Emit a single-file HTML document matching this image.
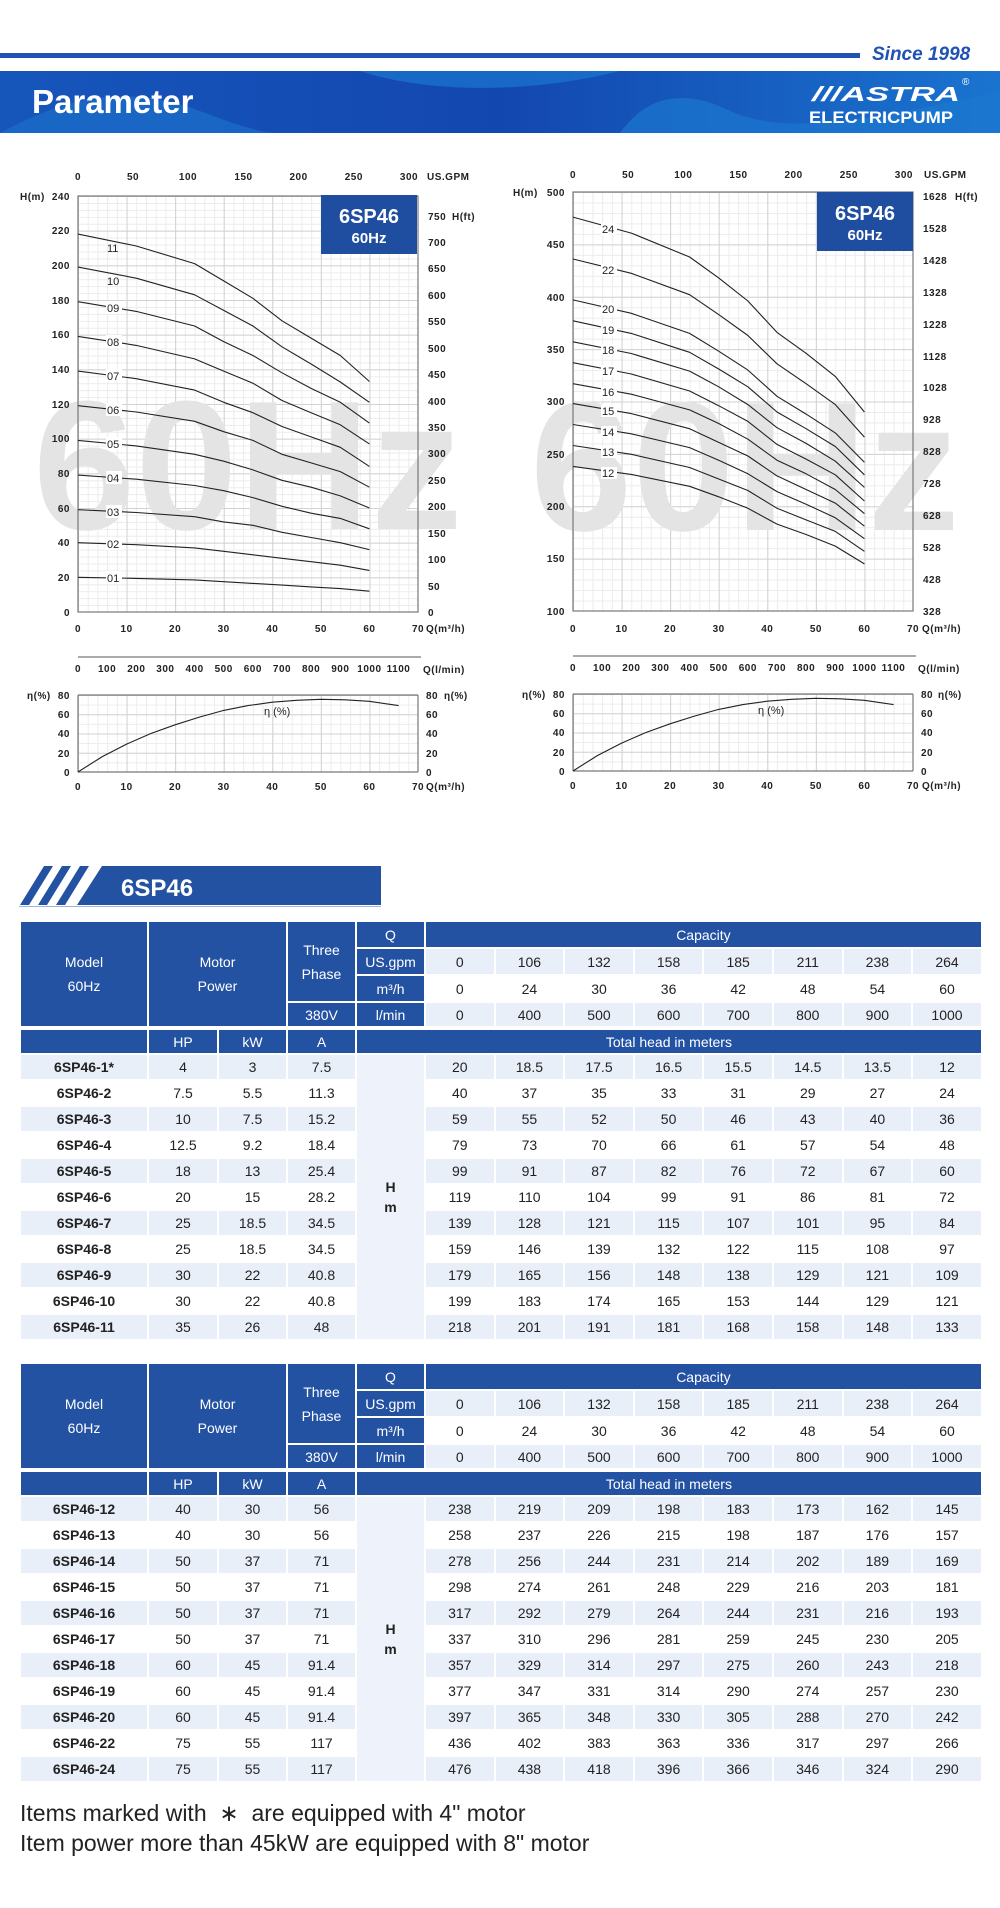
<!DOCTYPE html>
<html><head><meta charset="utf-8"><style>
body{margin:0;background:#fff;width:1000px;height:1908px;position:relative;overflow:hidden;font-family:"Liberation Sans",sans-serif}
.abs{position:absolute}
table.t{position:absolute;left:19px;width:962px;border-collapse:collapse;table-layout:fixed;border:2px solid #2452a2;font-family:"Liberation Sans Narrow","Liberation Sans",sans-serif;font-size:14px;color:#222;text-align:center}
table.t td{border:2px solid #fff;padding:0;line-height:1}
table.t td.b{background:#2452a2;color:#fff;font-size:14px}
table.t tr.l td{background:#e9eff9}
table.t td.hm{background:#eef3fb !important;font-weight:bold;line-height:20px}
table.t td.m{font-weight:bold}
.foot{position:absolute;left:20px;font-size:23px;color:#222}
</style></head><body>
<div class="abs" style="left:0;top:53px;width:860px;height:5px;background:#1f52b4"></div>
<div class="abs" style="left:872px;top:44px;font-size:19px;font-weight:bold;font-style:italic;color:#1f52b4">Since 1998</div>
<svg class="abs" style="left:0;top:71px" width="1000" height="62">
<defs><linearGradient id="hg" x1="0" x2="1"><stop offset="0" stop-color="#1656bb"/><stop offset=".5" stop-color="#1347b0"/><stop offset="1" stop-color="#1a74cf"/></linearGradient></defs>
<rect width="1000" height="62" fill="url(#hg)"/>
<path d="M0,62 C60,30 120,10 200,40 C240,55 260,62 280,62Z" fill="#1b6fcb" opacity=".7"/>
<path d="M360,0 C420,20 520,25 620,0Z" fill="#1d7fd4" opacity=".6"/>
<path d="M620,62 C650,20 690,20 730,40 C780,62 850,55 1000,20 L1000,62Z" fill="#1b77cf" opacity=".7"/>
<text x="32" y="42" font-size="33" font-weight="bold" fill="#fff">Parameter</text>
<text x="812" y="30" font-size="20" font-weight="bold" font-style="italic" fill="#fff" textLength="148" lengthAdjust="spacingAndGlyphs">///ASTRA</text>
<text x="962" y="14" font-size="10" fill="#fff">®</text>
<text x="809" y="52" font-size="17" font-weight="bold" fill="#fff" textLength="144" lengthAdjust="spacingAndGlyphs">ELECTRICPUMP</text>
</svg>

<svg class="abs" style="left:0;top:0" width="1000" height="800" font-family="Liberation Sans, sans-serif" font-size="10" fill="#222">
<defs>
<pattern id="lminv" patternUnits="userSpaceOnUse" x="78" y="0" width="9.714" height="800"><line x1="0.5" y1="0" x2="0.5" y2="800" stroke="#ececec" stroke-width="1"/></pattern>
<pattern id="lmajv" patternUnits="userSpaceOnUse" x="78" y="0" width="48.57" height="800"><line x1="0.5" y1="0" x2="0.5" y2="800" stroke="#d2d2d2" stroke-width="1"/></pattern>
<pattern id="rminv" patternUnits="userSpaceOnUse" x="573" y="0" width="9.714" height="800"><line x1="0.5" y1="0" x2="0.5" y2="800" stroke="#ececec" stroke-width="1"/></pattern>
<pattern id="rmajv" patternUnits="userSpaceOnUse" x="573" y="0" width="48.57" height="800"><line x1="0.5" y1="0" x2="0.5" y2="800" stroke="#d2d2d2" stroke-width="1"/></pattern>
<pattern id="lminh" patternUnits="userSpaceOnUse" x="0" y="612" width="1000" height="6.933"><line x1="0" y1="0.5" x2="1000" y2="0.5" stroke="#ececec"/></pattern>
<pattern id="lmajh" patternUnits="userSpaceOnUse" x="0" y="612" width="1000" height="34.667"><line x1="0" y1="0.5" x2="1000" y2="0.5" stroke="#d2d2d2"/></pattern>
<pattern id="rminh" patternUnits="userSpaceOnUse" x="0" y="611" width="1000" height="10.475"><line x1="0" y1="0.5" x2="1000" y2="0.5" stroke="#ececec"/></pattern>
<pattern id="rmajh" patternUnits="userSpaceOnUse" x="0" y="611" width="1000" height="52.375"><line x1="0" y1="0.5" x2="1000" y2="0.5" stroke="#d2d2d2"/></pattern>
<pattern id="eminh" patternUnits="userSpaceOnUse" x="0" y="772" width="1000" height="9.625"><line x1="0" y1="0.5" x2="1000" y2="0.5" stroke="#ececec"/></pattern>
<pattern id="emajh" patternUnits="userSpaceOnUse" x="0" y="772" width="1000" height="19.25"><line x1="0" y1="0.5" x2="1000" y2="0.5" stroke="#d2d2d2"/></pattern>
<pattern id="eminh2" patternUnits="userSpaceOnUse" x="0" y="771" width="1000" height="9.625"><line x1="0" y1="0.5" x2="1000" y2="0.5" stroke="#ececec"/></pattern>
<pattern id="emajh2" patternUnits="userSpaceOnUse" x="0" y="771" width="1000" height="19.25"><line x1="0" y1="0.5" x2="1000" y2="0.5" stroke="#d2d2d2"/></pattern>
</defs>
<rect x="78" y="196" width="340" height="416" fill="url(#lminh)"/>
<rect x="78" y="196" width="340" height="416" fill="url(#lminv)"/>
<rect x="78" y="196" width="340" height="416" fill="url(#lmajh)"/>
<rect x="78" y="196" width="340" height="416" fill="url(#lmajv)"/>
<rect x="573" y="192" width="340" height="419" fill="url(#rminh)"/>
<rect x="573" y="192" width="340" height="419" fill="url(#rminv)"/>
<rect x="573" y="192" width="340" height="419" fill="url(#rmajh)"/>
<rect x="573" y="192" width="340" height="419" fill="url(#rmajv)"/>
<rect x="78" y="695" width="340" height="77" fill="url(#eminh)"/>
<rect x="78" y="695" width="340" height="77" fill="url(#lminv)"/>
<rect x="78" y="695" width="340" height="77" fill="url(#emajh)"/>
<rect x="78" y="695" width="340" height="77" fill="url(#lmajv)"/>
<rect x="573" y="694" width="340" height="77" fill="url(#eminh2)"/>
<rect x="573" y="694" width="340" height="77" fill="url(#rminv)"/>
<rect x="573" y="694" width="340" height="77" fill="url(#emajh2)"/>
<rect x="573" y="694" width="340" height="77" fill="url(#rmajv)"/>
<text x="33" y="529" font-size="184" font-weight="bold" fill="#e4e4e4">60Hz</text>
<text x="530" y="530" font-size="184" font-weight="bold" fill="#e4e4e4">60Hz</text>
<g fill="none" stroke="#777" stroke-width="1.2">
<rect x="78" y="196" width="340" height="416"/>
<rect x="573" y="192" width="340" height="419"/>
<line x1="78" y1="695" x2="418" y2="695"/><line x1="78" y1="772" x2="418" y2="772"/><line x1="78" y1="695" x2="78" y2="772"/><line x1="418" y1="695" x2="418" y2="772"/>
<line x1="573" y1="694" x2="913" y2="694"/><line x1="573" y1="771" x2="913" y2="771"/><line x1="573" y1="694" x2="573" y2="771"/><line x1="913" y1="694" x2="913" y2="771"/>
<line x1="78" y1="657" x2="421" y2="657"/><line x1="573" y1="656" x2="916" y2="656"/>
</g>
<rect x="321" y="195" width="96" height="59" fill="#1f4ea0"/>
<text x="369" y="223" font-size="20" font-weight="bold" fill="#fff" text-anchor="middle">6SP46</text>
<text x="369" y="243" font-size="15" font-weight="bold" fill="#fff" text-anchor="middle">60Hz</text>
<rect x="817" y="192" width="96" height="59" fill="#1f4ea0"/>
<text x="865" y="220" font-size="20" font-weight="bold" fill="#fff" text-anchor="middle">6SP46</text>
<text x="865" y="240" font-size="15" font-weight="bold" fill="#fff" text-anchor="middle">60Hz</text>

<g fill="none" stroke="#222" stroke-width="1.1" stroke-linejoin="round">
<polyline points="78,577.3 136.3,578.4 194.6,579.9 223.7,581.7 252.9,583.4 282,585.1 311.1,586.9 340.3,588.6 369.4,591.2"/>
<polyline points="78,542.7 136.3,544.7 194.6,547.9 223.7,551.3 252.9,554.8 282,558.3 311.1,561.7 340.3,565.2 369.4,570.4"/>
<polyline points="78,509.7 136.3,512.5 194.6,516.7 223.7,521.9 252.9,525.3 282,532.3 311.1,537.5 340.3,542.7 369.4,549.6"/>
<polyline points="78,475.1 136.3,479.2 194.6,485.5 223.7,490.7 252.9,497.6 282,506.3 311.1,513.2 340.3,518.4 369.4,528.8"/>
<polyline points="78,440.4 136.3,445.9 194.6,454.3 223.7,461.2 252.9,469.9 282,480.3 311.1,487.2 340.3,495.9 369.4,508"/>
<polyline points="78,405.7 136.3,412 194.6,421.3 223.7,431.7 252.9,440.4 282,454.3 311.1,462.9 340.3,471.6 369.4,487.2"/>
<polyline points="78,371.1 136.3,378.7 194.6,390.1 223.7,402.3 252.9,412.7 282,426.5 311.1,436.9 340.3,447.3 369.4,466.4"/>
<polyline points="78,336.4 136.3,345.4 194.6,358.9 223.7,371.1 252.9,383.2 282,400.5 311.1,412.7 340.3,424.8 369.4,443.9"/>
<polyline points="78,301.7 136.3,311.4 194.6,326 223.7,341.6 252.9,355.5 282,372.8 311.1,388.4 340.3,402.3 369.4,423.1"/>
<polyline points="78,267.1 136.3,278.2 194.6,294.8 223.7,310.4 252.9,326 282,346.8 311.1,364 340.3,382 369.4,402.3"/>
<polyline points="78,234.1 136.3,246 194.6,263.6 223.7,280.9 252.9,298.3 282,320.8 311.1,338.1 340.3,355.5 369.4,381.5"/>
</g>
<g font-size="11">
<g fill="#fff"><rect x="106" y="571" width="16" height="13"/><rect x="106" y="537" width="16" height="13"/><rect x="106" y="505" width="16" height="13"/><rect x="106" y="471" width="16" height="13"/><rect x="106" y="437" width="16" height="13"/><rect x="106" y="403" width="16" height="13"/><rect x="106" y="369" width="16" height="13"/><rect x="106" y="335" width="16" height="13"/><rect x="106" y="301" width="16" height="13"/></g>
<text x="107" y="582">01</text><text x="107" y="548">02</text><text x="107" y="516">03</text><text x="107" y="482">04</text><text x="107" y="448">05</text><text x="107" y="414">06</text><text x="107" y="380">07</text><text x="107" y="346">08</text><text x="107" y="312">09</text>
<text x="107" y="285">10</text><text x="107" y="252">11</text>
</g>

<g fill="none" stroke="#222" stroke-width="1.1" stroke-linejoin="round">
<polyline points="573,466.4 631.3,474.4 689.6,486.3 718.7,496.8 747.9,508.3 777,524.1 806.1,534.5 835.3,546.1 864.4,563.9"/>
<polyline points="573,445.5 631.3,454.3 689.6,467.5 718.7,479 747.9,490.5 777,508.3 806.1,519.9 835.3,531.4 864.4,551.3"/>
<polyline points="573,424.5 631.3,433.8 689.6,447.6 718.7,460.2 747.9,473.8 777,491.6 806.1,504.2 835.3,517.8 864.4,538.7"/>
<polyline points="573,403.6 631.3,413.6 689.6,428.7 718.7,442.4 747.9,456 777,475.9 806.1,489.5 835.3,503.1 864.4,526.2"/>
<polyline points="573,383.7 631.3,394.2 689.6,409.9 718.7,423.5 747.9,439.2 777,460.2 806.1,473.8 835.3,489.5 864.4,513.6"/>
<polyline points="573,362.7 631.3,374 689.6,391 718.7,405.7 747.9,421.4 777,444.4 806.1,459.1 835.3,474.8 864.4,501"/>
<polyline points="573,341.8 631.3,353.5 689.6,371.1 718.7,386.8 747.9,404.6 777,427.7 806.1,443.4 835.3,461.2 864.4,487.4"/>
<polyline points="573,320.8 631.3,333.4 689.6,352.3 718.7,369 747.9,386.8 777,412 806.1,428.7 835.3,446.5 864.4,474.8"/>
<polyline points="573,299.9 631.3,313.3 689.6,333.4 718.7,351.2 747.9,370.1 777,396.3 806.1,414.1 835.3,432.9 864.4,462.3"/>
<polyline points="573,259 631.3,273.3 689.6,294.7 718.7,314.6 747.9,335.5 777,363.8 806.1,383.7 835.3,404.6 864.4,437.1"/>
<polyline points="573,217.1 631.3,233.1 689.6,257 718.7,277.9 747.9,301 777,332.4 806.1,353.3 835.3,376.4 864.4,412"/>
</g>
<g font-size="11">
<g fill="#fff"><rect x="601" y="467" width="16" height="12"/><rect x="601" y="446" width="16" height="12"/><rect x="601" y="426" width="16" height="12"/><rect x="601" y="405" width="16" height="12"/><rect x="601" y="386" width="16" height="12"/><rect x="601" y="365" width="16" height="12"/><rect x="601" y="344" width="16" height="12"/><rect x="601" y="324" width="16" height="12"/><rect x="601" y="303" width="16" height="12"/><rect x="601" y="264" width="16" height="12"/><rect x="601" y="223" width="16" height="12"/></g>
<text x="602" y="477">12</text><text x="602" y="456">13</text><text x="602" y="436">14</text><text x="602" y="415">15</text><text x="602" y="396">16</text><text x="602" y="375">17</text><text x="602" y="354">18</text><text x="602" y="334">19</text><text x="602" y="313">20</text><text x="602" y="274">22</text><text x="602" y="233">24</text>
</g>

<g fill="none" stroke="#222" stroke-width="1.1">
<polyline points="78,772 102.3,756.6 126.6,744.1 150.9,733.5 175.1,724.8 199.4,717.1 223.7,710.4 248,705.6 272.3,702.2 296.6,700.3 320.9,699.3 345.1,699.8 369.4,701.3 398.6,705.6"/>
<polyline points="573,771 597.3,755.6 621.6,743.1 645.9,732.5 670.1,723.8 694.4,716.1 718.7,709.4 743,704.6 767.3,701.2 791.6,699.3 815.9,698.3 840.1,698.8 864.4,700.3 893.6,704.6"/>
</g>
<text x="264" y="715" font-size="11">η (%)</text>
<text x="758" y="714" font-size="11">η (%)</text>

<g font-weight="bold" letter-spacing=".5">
<text x="20" y="200">H(m)</text>
<g text-anchor="end"><text x="70" y="200">240</text><text x="70" y="234">220</text><text x="70" y="269">200</text><text x="70" y="304">180</text><text x="70" y="338">160</text><text x="70" y="373">140</text><text x="70" y="408">120</text><text x="70" y="442">100</text><text x="70" y="477">80</text><text x="70" y="512">60</text><text x="70" y="546">40</text><text x="70" y="581">20</text><text x="70" y="616">0</text></g>
<g text-anchor="middle"><text x="78" y="180">0</text><text x="133" y="180">50</text><text x="188" y="180">100</text><text x="243.5" y="180">150</text><text x="298.6" y="180">200</text><text x="353.8" y="180">250</text><text x="409" y="180">300</text></g>
<text x="427" y="180">US.GPM</text>
<g><text x="428" y="616">0</text><text x="428" y="590">50</text><text x="428" y="563">100</text><text x="428" y="537">150</text><text x="428" y="510">200</text><text x="428" y="484">250</text><text x="428" y="457">300</text><text x="428" y="431">350</text><text x="428" y="405">400</text><text x="428" y="378">450</text><text x="428" y="352">500</text><text x="428" y="325">550</text><text x="428" y="299">600</text><text x="428" y="272">650</text><text x="428" y="246">700</text><text x="428" y="220">750</text></g>
<text x="452" y="220">H(ft)</text>
<g text-anchor="middle"><text x="78" y="632">0</text><text x="126.6" y="632">10</text><text x="175.1" y="632">20</text><text x="223.7" y="632">30</text><text x="272.3" y="632">40</text><text x="320.9" y="632">50</text><text x="369.4" y="632">60</text><text x="418" y="632">70</text></g>
<text x="426" y="632">Q(m³/h)</text>
<g text-anchor="middle"><text x="78" y="672">0</text><text x="107.1" y="672">100</text><text x="136.3" y="672">200</text><text x="165.4" y="672">300</text><text x="194.6" y="672">400</text><text x="223.7" y="672">500</text><text x="252.8" y="672">600</text><text x="282" y="672">700</text><text x="311.1" y="672">800</text><text x="340.3" y="672">900</text><text x="369.4" y="672">1000</text><text x="398.5" y="672">1100</text></g>
<text x="423" y="673">Q(l/min)</text>
<text x="27" y="699">η(%)</text>
<g text-anchor="end"><text x="70" y="699">80</text><text x="70" y="718">60</text><text x="70" y="737">40</text><text x="70" y="757">20</text><text x="70" y="776">0</text></g>
<g><text x="426" y="699">80</text><text x="426" y="718">60</text><text x="426" y="737">40</text><text x="426" y="757">20</text><text x="426" y="776">0</text></g>
<text x="444" y="699">η(%)</text>
<g text-anchor="middle"><text x="78" y="790">0</text><text x="126.6" y="790">10</text><text x="175.1" y="790">20</text><text x="223.7" y="790">30</text><text x="272.3" y="790">40</text><text x="320.9" y="790">50</text><text x="369.4" y="790">60</text><text x="418" y="790">70</text></g>
<text x="426" y="790">Q(m³/h)</text>

<text x="513" y="196">H(m)</text>
<g text-anchor="end"><text x="565" y="196">500</text><text x="565" y="248">450</text><text x="565" y="301">400</text><text x="565" y="353">350</text><text x="565" y="405">300</text><text x="565" y="458">250</text><text x="565" y="510">200</text><text x="565" y="562">150</text><text x="565" y="615">100</text></g>
<g text-anchor="middle"><text x="573" y="178">0</text><text x="628.2" y="178">50</text><text x="683.3" y="178">100</text><text x="738.5" y="178">150</text><text x="793.6" y="178">200</text><text x="848.8" y="178">250</text><text x="903.9" y="178">300</text></g>
<text x="924" y="178">US.GPM</text>
<g><text x="923" y="615">328</text><text x="923" y="583">428</text><text x="923" y="551">528</text><text x="923" y="519">628</text><text x="923" y="487">728</text><text x="923" y="455">828</text><text x="923" y="423">928</text><text x="923" y="391">1028</text><text x="923" y="360">1128</text><text x="923" y="328">1228</text><text x="923" y="296">1328</text><text x="923" y="264">1428</text><text x="923" y="232">1528</text><text x="923" y="200">1628</text></g>
<text x="955" y="200">H(ft)</text>
<g text-anchor="middle"><text x="573" y="632">0</text><text x="621.6" y="632">10</text><text x="670.1" y="632">20</text><text x="718.7" y="632">30</text><text x="767.3" y="632">40</text><text x="815.9" y="632">50</text><text x="864.4" y="632">60</text><text x="913" y="632">70</text></g>
<text x="922" y="632">Q(m³/h)</text>
<g text-anchor="middle"><text x="573" y="671">0</text><text x="602.1" y="671">100</text><text x="631.3" y="671">200</text><text x="660.4" y="671">300</text><text x="689.6" y="671">400</text><text x="718.7" y="671">500</text><text x="747.8" y="671">600</text><text x="777" y="671">700</text><text x="806.1" y="671">800</text><text x="835.3" y="671">900</text><text x="864.4" y="671">1000</text><text x="893.5" y="671">1100</text></g>
<text x="918" y="672">Q(l/min)</text>
<text x="522" y="698">η(%)</text>
<g text-anchor="end"><text x="565" y="698">80</text><text x="565" y="717">60</text><text x="565" y="736">40</text><text x="565" y="756">20</text><text x="565" y="775">0</text></g>
<g><text x="921" y="698">80</text><text x="921" y="717">60</text><text x="921" y="736">40</text><text x="921" y="756">20</text><text x="921" y="775">0</text></g>
<text x="938" y="698">η(%)</text>
<g text-anchor="middle"><text x="573" y="789">0</text><text x="621.6" y="789">10</text><text x="670.1" y="789">20</text><text x="718.7" y="789">30</text><text x="767.3" y="789">40</text><text x="815.9" y="789">50</text><text x="864.4" y="789">60</text><text x="913" y="789">70</text></g>
<text x="922" y="789">Q(m³/h)</text>
</g>
</svg>

<svg class="abs" style="left:0;top:864px" width="400" height="44">
<polygon points="102,2 381,2 381,41 77,41" fill="#2452a2"/>
<polygon points="44,2 53,2 29,41 20,41" fill="#2452a2"/>
<polygon points="62,2 71,2 47,41 38,41" fill="#2452a2"/>
<polygon points="80,2 89,2 65,41 56,41" fill="#2452a2"/>
<line x1="19" y1="42.5" x2="381" y2="42.5" stroke="#9fb4dc" stroke-width="1"/>
<text x="121" y="32" font-family="Liberation Sans Narrow, Liberation Sans, sans-serif" font-size="24" font-weight="bold" fill="#fff">6SP46</text>
</svg>

<table class="t" style="top:920px">
<colgroup><col style="width:128px"><col style="width:70px"><col style="width:69px"><col style="width:69px"><col style="width:69px"><col span="8" style="width:69.6px"></colgroup>
<tr style="height:27px"><td class="b" rowspan="4" style="line-height:24px">Model<br>60Hz</td><td class="b" rowspan="4" colspan="2" style="line-height:24px">Motor<br>Power</td><td class="b" rowspan="3" style="line-height:24px">Three<br>Phase</td><td class="b">Q</td><td class="b" colspan="8">Capacity</td></tr>
<tr style="height:27px" class="l"><td class="b" style="background:#2452a2">US.gpm</td><td>0</td><td>106</td><td>132</td><td>158</td><td>185</td><td>211</td><td>238</td><td>264</td></tr>
<tr style="height:27px"><td class="b">m³/h</td><td>0</td><td>24</td><td>30</td><td>36</td><td>42</td><td>48</td><td>54</td><td>60</td></tr>
<tr style="height:26px" class="l"><td class="b" style="background:#2452a2">380V</td><td class="b" style="background:#2452a2">l/min</td><td>0</td><td>400</td><td>500</td><td>600</td><td>700</td><td>800</td><td>900</td><td>1000</td></tr>
<tr style="height:26px"><td class="b" style="border-top:4px solid #fff"></td><td class="b" style="border-top:4px solid #fff">HP</td><td class="b" style="border-top:4px solid #fff">kW</td><td class="b" style="border-top:4px solid #fff">A</td><td class="b" colspan="9" style="border-top:4px solid #fff">Total head in meters</td></tr>
<tr style="height:26px" class="l"><td class="m">6SP46-1*</td><td>4</td><td>3</td><td>7.5</td><td class="hm" rowspan="11">H<br>m</td><td>20</td><td>18.5</td><td>17.5</td><td>16.5</td><td>15.5</td><td>14.5</td><td>13.5</td><td>12</td></tr>
<tr style="height:26px"><td class="m">6SP46-2</td><td>7.5</td><td>5.5</td><td>11.3</td><td>40</td><td>37</td><td>35</td><td>33</td><td>31</td><td>29</td><td>27</td><td>24</td></tr>
<tr style="height:26px" class="l"><td class="m">6SP46-3</td><td>10</td><td>7.5</td><td>15.2</td><td>59</td><td>55</td><td>52</td><td>50</td><td>46</td><td>43</td><td>40</td><td>36</td></tr>
<tr style="height:26px"><td class="m">6SP46-4</td><td>12.5</td><td>9.2</td><td>18.4</td><td>79</td><td>73</td><td>70</td><td>66</td><td>61</td><td>57</td><td>54</td><td>48</td></tr>
<tr style="height:26px" class="l"><td class="m">6SP46-5</td><td>18</td><td>13</td><td>25.4</td><td>99</td><td>91</td><td>87</td><td>82</td><td>76</td><td>72</td><td>67</td><td>60</td></tr>
<tr style="height:26px"><td class="m">6SP46-6</td><td>20</td><td>15</td><td>28.2</td><td>119</td><td>110</td><td>104</td><td>99</td><td>91</td><td>86</td><td>81</td><td>72</td></tr>
<tr style="height:26px" class="l"><td class="m">6SP46-7</td><td>25</td><td>18.5</td><td>34.5</td><td>139</td><td>128</td><td>121</td><td>115</td><td>107</td><td>101</td><td>95</td><td>84</td></tr>
<tr style="height:26px"><td class="m">6SP46-8</td><td>25</td><td>18.5</td><td>34.5</td><td>159</td><td>146</td><td>139</td><td>132</td><td>122</td><td>115</td><td>108</td><td>97</td></tr>
<tr style="height:26px" class="l"><td class="m">6SP46-9</td><td>30</td><td>22</td><td>40.8</td><td>179</td><td>165</td><td>156</td><td>148</td><td>138</td><td>129</td><td>121</td><td>109</td></tr>
<tr style="height:26px"><td class="m">6SP46-10</td><td>30</td><td>22</td><td>40.8</td><td>199</td><td>183</td><td>174</td><td>165</td><td>153</td><td>144</td><td>129</td><td>121</td></tr>
<tr style="height:26px" class="l"><td class="m">6SP46-11</td><td>35</td><td>26</td><td>48</td><td>218</td><td>201</td><td>191</td><td>181</td><td>168</td><td>158</td><td>148</td><td>133</td></tr>
</table>

<table class="t" style="top:1362px">
<colgroup><col style="width:128px"><col style="width:70px"><col style="width:69px"><col style="width:69px"><col style="width:69px"><col span="8" style="width:69.6px"></colgroup>
<tr style="height:27px"><td class="b" rowspan="4" style="line-height:24px">Model<br>60Hz</td><td class="b" rowspan="4" colspan="2" style="line-height:24px">Motor<br>Power</td><td class="b" rowspan="3" style="line-height:24px">Three<br>Phase</td><td class="b">Q</td><td class="b" colspan="8">Capacity</td></tr>
<tr style="height:27px" class="l"><td class="b" style="background:#2452a2">US.gpm</td><td>0</td><td>106</td><td>132</td><td>158</td><td>185</td><td>211</td><td>238</td><td>264</td></tr>
<tr style="height:27px"><td class="b">m³/h</td><td>0</td><td>24</td><td>30</td><td>36</td><td>42</td><td>48</td><td>54</td><td>60</td></tr>
<tr style="height:26px" class="l"><td class="b" style="background:#2452a2">380V</td><td class="b" style="background:#2452a2">l/min</td><td>0</td><td>400</td><td>500</td><td>600</td><td>700</td><td>800</td><td>900</td><td>1000</td></tr>
<tr style="height:26px"><td class="b" style="border-top:4px solid #fff"></td><td class="b" style="border-top:4px solid #fff">HP</td><td class="b" style="border-top:4px solid #fff">kW</td><td class="b" style="border-top:4px solid #fff">A</td><td class="b" colspan="9" style="border-top:4px solid #fff">Total head in meters</td></tr>
<tr style="height:26px" class="l"><td class="m">6SP46-12</td><td>40</td><td>30</td><td>56</td><td class="hm" rowspan="11">H<br>m</td><td>238</td><td>219</td><td>209</td><td>198</td><td>183</td><td>173</td><td>162</td><td>145</td></tr>
<tr style="height:26px"><td class="m">6SP46-13</td><td>40</td><td>30</td><td>56</td><td>258</td><td>237</td><td>226</td><td>215</td><td>198</td><td>187</td><td>176</td><td>157</td></tr>
<tr style="height:26px" class="l"><td class="m">6SP46-14</td><td>50</td><td>37</td><td>71</td><td>278</td><td>256</td><td>244</td><td>231</td><td>214</td><td>202</td><td>189</td><td>169</td></tr>
<tr style="height:26px"><td class="m">6SP46-15</td><td>50</td><td>37</td><td>71</td><td>298</td><td>274</td><td>261</td><td>248</td><td>229</td><td>216</td><td>203</td><td>181</td></tr>
<tr style="height:26px" class="l"><td class="m">6SP46-16</td><td>50</td><td>37</td><td>71</td><td>317</td><td>292</td><td>279</td><td>264</td><td>244</td><td>231</td><td>216</td><td>193</td></tr>
<tr style="height:26px"><td class="m">6SP46-17</td><td>50</td><td>37</td><td>71</td><td>337</td><td>310</td><td>296</td><td>281</td><td>259</td><td>245</td><td>230</td><td>205</td></tr>
<tr style="height:26px" class="l"><td class="m">6SP46-18</td><td>60</td><td>45</td><td>91.4</td><td>357</td><td>329</td><td>314</td><td>297</td><td>275</td><td>260</td><td>243</td><td>218</td></tr>
<tr style="height:26px"><td class="m">6SP46-19</td><td>60</td><td>45</td><td>91.4</td><td>377</td><td>347</td><td>331</td><td>314</td><td>290</td><td>274</td><td>257</td><td>230</td></tr>
<tr style="height:26px" class="l"><td class="m">6SP46-20</td><td>60</td><td>45</td><td>91.4</td><td>397</td><td>365</td><td>348</td><td>330</td><td>305</td><td>288</td><td>270</td><td>242</td></tr>
<tr style="height:26px"><td class="m">6SP46-22</td><td>75</td><td>55</td><td>117</td><td>436</td><td>402</td><td>383</td><td>363</td><td>336</td><td>317</td><td>297</td><td>266</td></tr>
<tr style="height:26px" class="l"><td class="m">6SP46-24</td><td>75</td><td>55</td><td>117</td><td>476</td><td>438</td><td>418</td><td>396</td><td>366</td><td>346</td><td>324</td><td>290</td></tr>
</table>

<div class="foot" style="top:1800px">Items marked with &nbsp;∗&nbsp; are equipped with 4" motor</div>
<div class="foot" style="top:1830px">Item power more than 45kW are equipped with 8" motor</div>
</body></html>
